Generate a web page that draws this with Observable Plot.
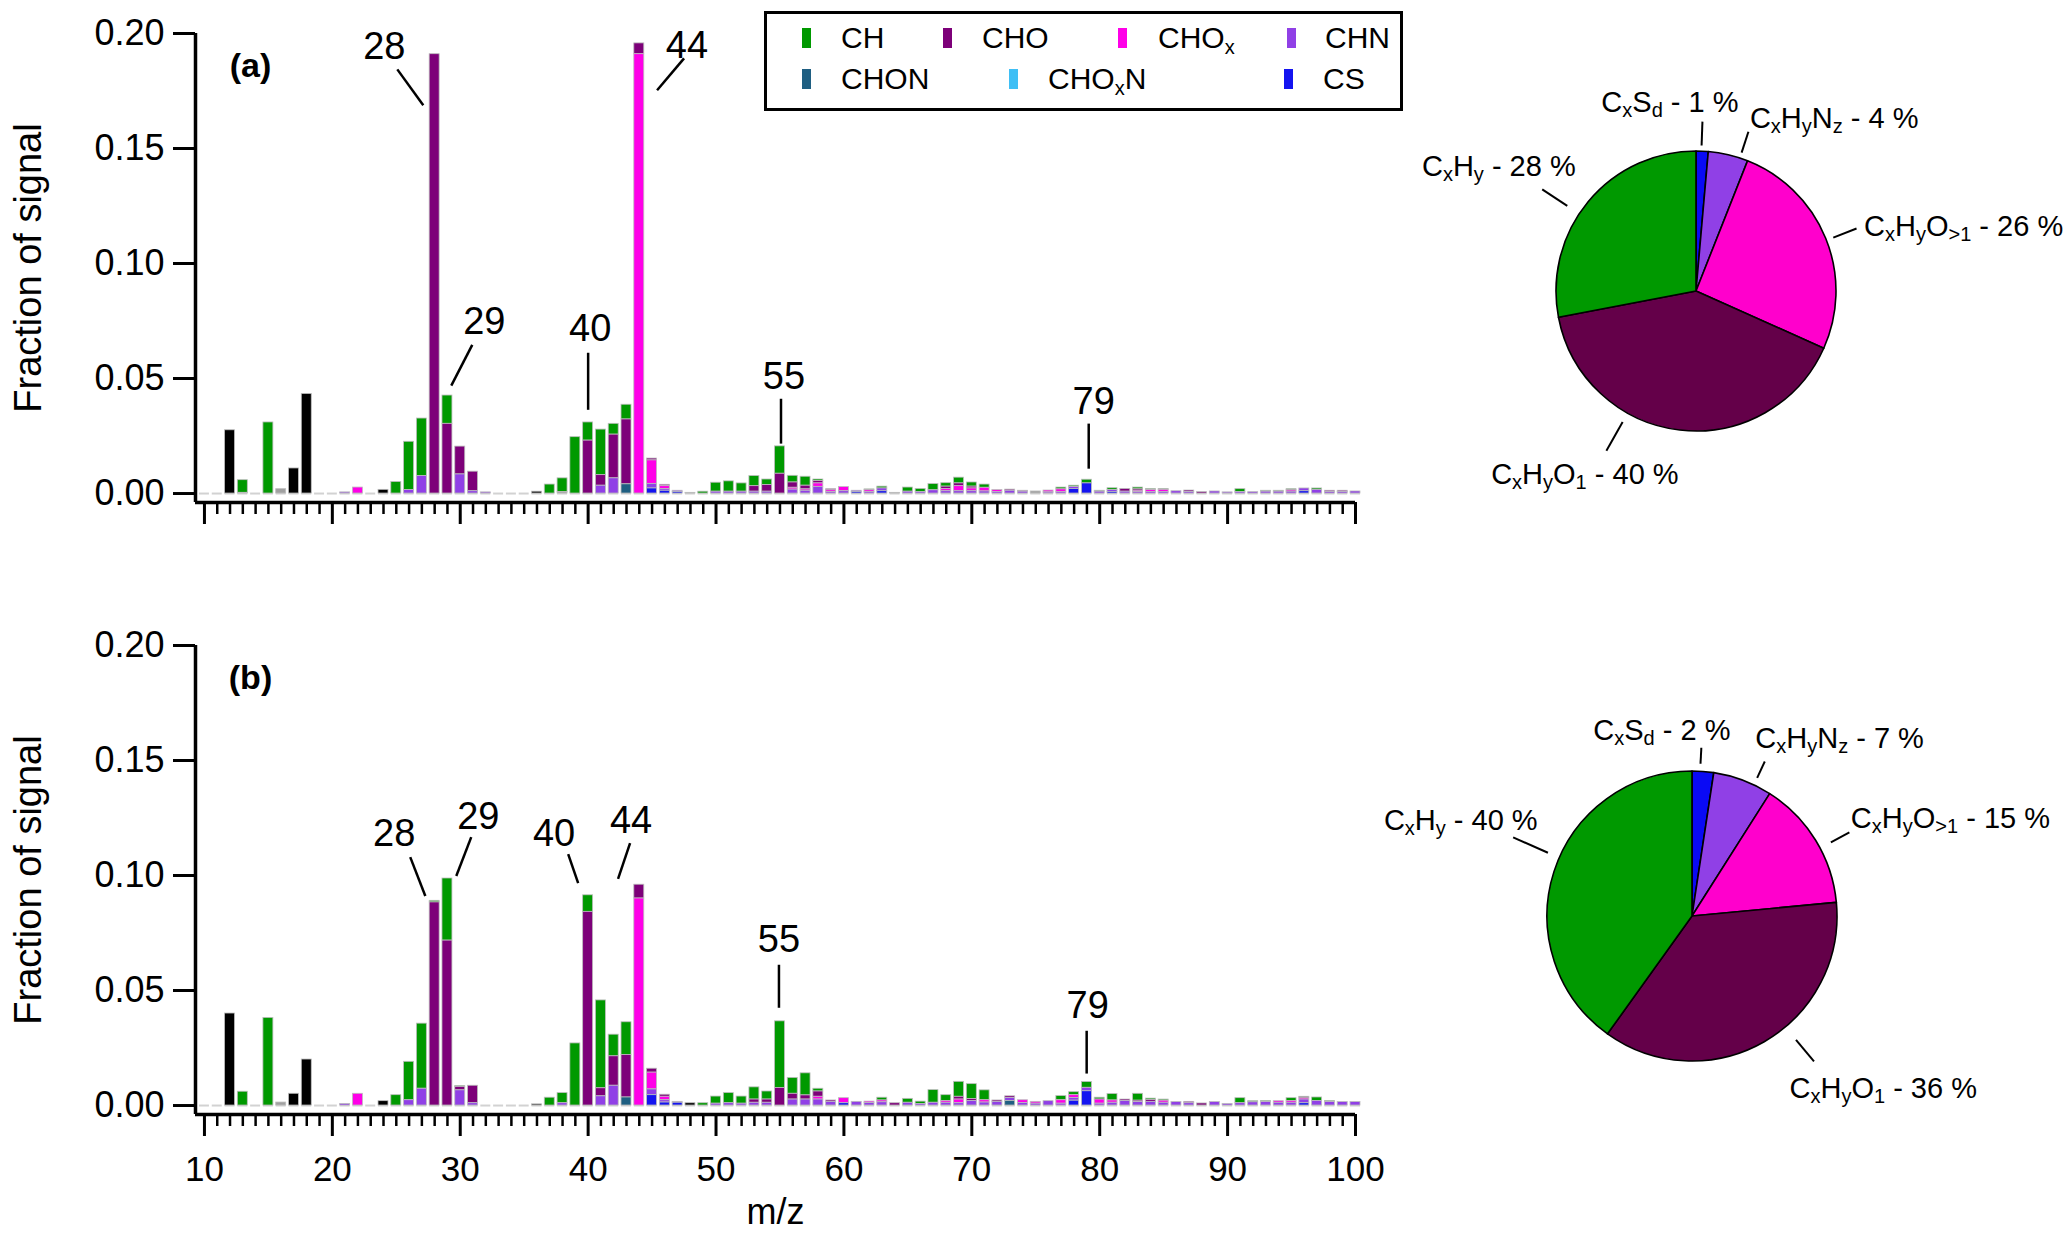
<!DOCTYPE html>
<html><head><meta charset="utf-8">
<script src="https://cdn.jsdelivr.net/npm/d3@7"></script>
<script src="https://cdn.jsdelivr.net/npm/@observablehq/plot@0.6"></script>
<style>
body{margin:0;background:#fff;}
#fig{position:relative;width:2067px;height:1242px;overflow:hidden;font-family:"Liberation Sans",Arial,sans-serif;color:#000;background:#fff;}
.abs{position:absolute;}
#legend{position:absolute;left:764px;top:11px;width:633px;height:94px;border:3px solid #000;}
#legend .sw{position:absolute;width:9px;height:20px;}
#legend .lt{position:absolute;font-size:30px;line-height:34px;white-space:nowrap;}
#legend sub{font-size:20px;vertical-align:-6px;line-height:0;}
</style></head><body><div id="fig"></div>
<script>
// ---------- categories ----------
const cats = ["CH","CHO","CHOx","CHN","CHON","CHOxN","CS","Other","Unassigned"];
const barColors = ["#009900","#7d0079","#ff00e8","#9040e6","#1f5f82","#3fbff5","#1414f0","#000000","#a0a0a0"];
const stackOrder = ["Unassigned","CS","CHOxN","CHON","CHN","CHOx","CHO","CH","Other"];

// ---------- axes ----------
const mzAll = d3.range(10, 101);
const majorTicks = [10,20,30,40,50,60,70,80,90,100];
const minorTicks = mzAll.filter(d => d % 10 !== 0);
const yTicks = [0, 0.05, 0.10, 0.15, 0.20];

// ---------- panel (a) values: [m/z, fraction] ----------
const a_CH = [[13,0.0055],[15,0.0309],[25,0.005],[26,0.021],[27,0.025],[29,0.0123],[37,0.0039],[38,0.006],[39,0.0245],[40,0.0079],[41,0.0198],[42,0.0047],[43,0.0064],[49,0.0008],[50,0.0039],[51,0.0045],[52,0.0036],[53,0.0044],[54,0.0024],[55,0.0119],[56,0.0029],[57,0.0039],[58,0.0007],[62,0.0004],[63,0.0008],[65,0.0018],[66,0.0014],[67,0.0027],[68,0.0015],[69,0.0025],[70,0.0018],[71,0.0014],[77,0.0008],[78,0.0006],[79,0.0016],[80,0.0004],[81,0.0008],[83,0.0008],[84,0.0005],[85,0.0004],[91,0.0013],[93,0.0004],[94,0.0004],[95,0.0005],[97,0.0006]];
const a_CHO = [[28,0.191],[29,0.0303],[30,0.0121],[31,0.0085],[40,0.023],[41,0.0046],[42,0.019],[43,0.0282],[44,0.0047],[45,0.0008],[46,0.0006],[53,0.0024],[54,0.0029],[55,0.0086],[56,0.0023],[57,0.0016],[58,0.001],[59,0.0005],[68,0.001],[69,0.0012],[70,0.0008],[73,0.0005],[74,0.0004],[82,0.0012],[83,0.0006],[87,0.0006],[88,0.0006],[98,0.0005],[99,0.0005]];
const a_CHOx = [[22,0.0026],[44,0.191],[45,0.0102],[46,0.0012],[56,0.0008],[57,0.0006],[58,0.0015],[59,0.0008],[60,0.0018],[62,0.0008],[68,0.001],[69,0.0022],[70,0.0012],[71,0.0016],[72,0.0008],[76,0.0008],[77,0.0012],[83,0.0006],[84,0.0008],[85,0.0009],[95,0.0006]];
const a_CHN = [[21,0.0005],[26,0.0015],[27,0.0076],[30,0.0083],[31,0.001],[32,0.0005],[41,0.0034],[42,0.0066],[45,0.002],[46,0.0008],[47,0.0006],[50,0.0008],[51,0.0008],[52,0.0008],[53,0.0008],[54,0.0008],[56,0.0017],[57,0.0012],[58,0.0029],[59,0.0006],[60,0.001],[61,0.0006],[62,0.0006],[63,0.0012],[65,0.0008],[66,0.0006],[67,0.0014],[68,0.001],[69,0.001],[70,0.001],[71,0.0009],[72,0.0007],[73,0.0012],[74,0.0008],[76,0.0005],[77,0.0006],[78,0.0008],[80,0.0008],[81,0.0008],[82,0.0008],[83,0.0006],[84,0.0007],[85,0.0007],[86,0.001],[87,0.0007],[89,0.0009],[90,0.0005],[91,0.0006],[92,0.0006],[93,0.0008],[94,0.0008],[95,0.0008],[96,0.0012],[97,0.0016],[98,0.0007],[99,0.0007],[100,0.0009]];
const a_CHON = [[43,0.004]];
const a_CHOxN = [];
const a_CS = [[45,0.0022],[46,0.0012],[47,0.0006],[61,0.0006],[63,0.001],[78,0.002],[79,0.0044],[81,0.0007],[96,0.001]];
const a_Other = [[12,0.0275],[17,0.0109],[18,0.0433],[24,0.0016],[36,0.0008]];
const a_Unassigned = [[13,0.0003],[16,0.0019],[38,0.0006],[48,0.0003],[64,0.0003],[75,0.0009]];

// ---------- panel (b) values ----------
const b_CH = [[13,0.006],[15,0.0381],[25,0.0045],[26,0.0167],[27,0.0283],[28,0.0007],[29,0.027],[30,0.0004],[37,0.0034],[38,0.0044],[39,0.027],[40,0.0072],[41,0.0382],[42,0.0094],[43,0.0142],[49,0.001],[50,0.0031],[51,0.0044],[52,0.0031],[53,0.0053],[54,0.0035],[55,0.029],[56,0.0069],[57,0.0096],[58,0.0012],[63,0.0012],[65,0.0017],[66,0.001],[67,0.0055],[68,0.0025],[69,0.0065],[70,0.0065],[71,0.0043],[77,0.0018],[78,0.0013],[79,0.0025],[80,0.0008],[81,0.0028],[83,0.003],[84,0.0006],[85,0.0005],[91,0.0022],[92,0.0005],[93,0.0005],[95,0.0012],[97,0.0015],[98,0.0005]];
const b_CHO = [[28,0.0883],[29,0.0717],[30,0.0015],[31,0.0076],[40,0.0842],[41,0.0035],[42,0.0128],[43,0.0185],[44,0.006],[45,0.0017],[46,0.0009],[53,0.0014],[54,0.0014],[55,0.0076],[56,0.0025],[57,0.0018],[58,0.0023],[59,0.0006],[64,0.001],[69,0.0012],[70,0.0008],[72,0.0006],[73,0.0007],[82,0.0006],[83,0.0006],[84,0.0008],[87,0.0006],[88,0.0009]];
const b_CHOx = [[22,0.0051],[44,0.090],[45,0.0073],[46,0.0015],[58,0.0012],[60,0.0022],[62,0.0006],[63,0.0008],[68,0.0008],[69,0.0016],[71,0.001],[74,0.0012],[75,0.0008],[77,0.0015],[78,0.0012],[80,0.0018],[81,0.001],[85,0.0009],[94,0.0007],[95,0.0008],[96,0.0008]];
const b_CHN = [[21,0.0007],[26,0.0023],[27,0.0073],[30,0.0066],[31,0.001],[38,0.001],[41,0.004],[42,0.0086],[45,0.0025],[46,0.001],[47,0.0004],[50,0.0008],[51,0.001],[52,0.0008],[53,0.0012],[54,0.0012],[56,0.0026],[57,0.0026],[58,0.0026],[59,0.0016],[61,0.0016],[62,0.0011],[63,0.0014],[65,0.0012],[66,0.0007],[67,0.0012],[68,0.0012],[69,0.001],[70,0.002],[71,0.0013],[72,0.0016],[73,0.0013],[74,0.0011],[75,0.0008],[76,0.0019],[77,0.0008],[78,0.0012],[79,0.0015],[80,0.0008],[81,0.0012],[82,0.002],[83,0.0015],[84,0.0016],[85,0.0012],[86,0.0015],[87,0.001],[89,0.0015],[90,0.0007],[91,0.001],[92,0.0014],[93,0.0015],[94,0.0012],[95,0.0012],[96,0.0016],[97,0.002],[98,0.0015],[99,0.0015],[100,0.0015]];
const b_CHON = [[43,0.0035],[73,0.002]];
const b_CHOxN = [];
const b_CS = [[45,0.0045],[46,0.0013],[47,0.0012],[60,0.001],[78,0.0021],[79,0.0062],[96,0.001]];
const b_Other = [[12,0.040],[17,0.0051],[18,0.020],[24,0.0019],[36,0.0005],[48,0.001],[96,0.0004]];
const b_Unassigned = [[16,0.0013]];

// ---------- peak annotations ----------
const peakLabelsA = ["28","44","29","40","55","79"];
const peakLabelsB = ["28","29","40","44","55","79"];
// layout (data coords): text position and leader line ends
const peakLayoutA = [
  {tx:24.06,ty:0.1944,x1:25.08,y1:0.1844,x2:27.11,y2:0.1688},
  {tx:47.73,ty:0.1948,x1:47.5,y1:0.1892,x2:45.39,y2:0.1753},
  {tx:31.88,ty:0.0746,x1:30.94,y1:0.0646,x2:29.3,y2:0.0469},
  {tx:40.16,ty:0.0716,x1:40.0,y1:0.0612,x2:40.0,y2:0.0364},
  {tx:55.31,ty:0.0508,x1:55.08,y1:0.0412,x2:55.08,y2:0.0217},
  {tx:79.53,ty:0.0399,x1:79.14,y1:0.0304,x2:79.14,y2:0.0108}
];
const peakLayoutB = [
  {tx:24.84,ty:0.118,x1:26.09,y1:0.108,x2:27.27,y2:0.0911},
  {tx:31.41,ty:0.1254,x1:30.86,y1:0.1167,x2:29.69,y2:0.0998},
  {tx:37.34,ty:0.118,x1:38.44,y1:0.1093,x2:39.22,y2:0.0967},
  {tx:43.36,ty:0.1236,x1:43.28,y1:0.1141,x2:42.34,y2:0.0985},
  {tx:54.92,ty:0.072,x1:54.92,y1:0.0612,x2:54.92,y2:0.0425},
  {tx:79.06,ty:0.0434,x1:78.98,y1:0.0325,x2:78.98,y2:0.0139}
];

// ---------- pie values (percent) ----------
const pieCats = ["CS","CHN","CHOx","CHO","CH"];
const pieColors = ["#0a0af5","#9040e6","#ff00cc","#640049","#009900"];
const pieA = [1.4, 4.6, 25.7, 40.3, 28.0];
const pieA_pct = [1, 4, 26, 40, 28];
const pieB = [2.4, 6.6, 14.5, 36.4, 40.1];
const pieB_pct = [2, 7, 15, 36, 40];
const pieLabelParts = {
  CS: [["C",0],["x",1],["S",0],["d",1]],
  CHN: [["C",0],["x",1],["H",0],["y",1],["N",0],["z",1]],
  CHOx: [["C",0],["x",1],["H",0],["y",1],["O",0],[">1",1]],
  CHO: [["C",0],["x",1],["H",0],["y",1],["O",0],["1",1]],
  CH: [["C",0],["x",1],["H",0],["y",1]]
};
// pie layout: center, radius, leader angle (deg clockwise from top), leader radii, label offsets
const pieLayoutA = {cx:1696, cy:291, r:140, labels:[
  {ang:2, r1:146, r2:170, dx:-32, dy:-17, anchor:"middle"},
  {ang:18, r1:146, r2:168, dx:2, dy:-11, anchor:"start"},
  {ang:68.5, r1:147, r2:172, dx:8, dy:0, anchor:"start"},
  {ang:209.5, r1:150, r2:183, dx:-21, dy:26, anchor:"middle"},
  {ang:303.5, r1:155, r2:185, dx:34, dy:-21, anchor:"end"}
]};
const pieLayoutB = {cx:1692, cy:916, r:145, labels:[
  {ang:3, r1:153, r2:169, dx:-39, dy:-15, anchor:"middle"},
  {ang:25, r1:153, r2:171, dx:-9, dy:-21, anchor:"start"},
  {ang:61.8, r1:157, r2:178, dx:2, dy:-12, anchor:"start"},
  {ang:140, r1:161, r2:189, dx:-24, dy:29, anchor:"start"},
  {ang:293.8, r1:158, r2:196, dx:25, dy:-15, anchor:"end"}
]};

// ---------- helpers ----------
function table(series) {
  const rows = [];
  for (const [cat, pairs] of Object.entries(series))
    for (const [mz, value] of pairs) rows.push({mz, cat, value});
  return rows;
}
const dataA = table({CH:a_CH, CHO:a_CHO, CHOx:a_CHOx, CHN:a_CHN, CHON:a_CHON, CHOxN:a_CHOxN, CS:a_CS, Other:a_Other, Unassigned:a_Unassigned});
const dataB = table({CH:b_CH, CHO:b_CHO, CHOx:b_CHOx, CHN:b_CHN, CHON:b_CHON, CHOxN:b_CHOxN, CS:b_CS, Other:b_Other, Unassigned:b_Unassigned});
const annotA = peakLabelsA.map((label, i) => ({label, ...peakLayoutA[i]}));
const annotB = peakLabelsB.map((label, i) => ({label, ...peakLayoutB[i]}));

const FONT = '"Liberation Sans", Arial, Helvetica, sans-serif';
const X0 = 9.3, YB = -0.0039;

function panel(data, annot, tag, showX) {
  const h = showX ? 630 : 560;
  return Plot.plot({
    width: 1400, height: h,
    marginLeft: 195, marginRight: 45, marginTop: 33, marginBottom: h - 502,
    x: {domain: [X0, 100]},
    y: {domain: [YB, 0.2]},
    color: {domain: cats, range: barColors},
    style: {fontFamily: FONT, color: "#000", background: "transparent", overflow: "visible"},
    marks: [
      Plot.ruleY(mzAll, {x1: d => d - 0.39, x2: d => d + 0.39, y: 0, stroke: "#d2d2d2", strokeWidth: 2}),
      Plot.rectY(data, {x1: d => d.mz - 0.39, x2: d => d.mz + 0.39, y: "value", z: "cat", fill: "cat",
        order: stackOrder, stroke: "#bdbdbd", strokeWidth: 0.8}),
      Plot.axisY({ticks: yTicks, tickSize: 22, tickPadding: 9, tickFormat: d3.format(".2f"), fontSize: 36, strokeWidth: 3, label: null}),
      Plot.axisX({ticks: majorTicks, tickSize: 22, tickPadding: 20, tickFormat: showX ? (d => String(d)) : (() => ""), fontSize: 35, strokeWidth: 3, label: null}),
      Plot.axisX({ticks: minorTicks, tickSize: 12, tickFormat: () => "", strokeWidth: 2.5, label: null}),
      Plot.ruleX([X0], {y1: YB, y2: 0.2, strokeWidth: 3.5}),
      Plot.ruleY([YB], {x1: X0, x2: 100, strokeWidth: 3.5}),
      Plot.link(annot, {x1: "x1", y1: "y1", x2: "x2", y2: "y2", stroke: "#000", strokeWidth: 2.5}),
      Plot.text(annot, {x: "tx", y: "ty", text: "label", fontSize: 38, lineAnchor: "middle"}),
      Plot.text([tag], {frameAnchor: "top-left", dx: 55, dy: 33, fontSize: 34, fontWeight: "bold", textAnchor: "middle", lineAnchor: "middle"}),
      Plot.text(["Fraction of signal"], {frameAnchor: "left", rotate: -90, dx: -167, fontSize: 38, textAnchor: "middle", lineAnchor: "middle"}),
      ...(showX ? [Plot.text(["m/z"], {frameAnchor: "bottom", dy: 98, fontSize: 36, lineAnchor: "middle"})] : [])
    ]
  });
}

function pieRender(values, pcts, layout) {
  return (index, scales) => {
    const sx = scales.x, sy = scales.y;
    const g = d3.create("svg:g");
    const cx = sx(layout.cx), cy = sy(layout.cy);
    const arcs = d3.pie().sort(null).value(d => d)(values);
    const arc = d3.arc().innerRadius(0).outerRadius(layout.r);
    g.selectAll("path").data(arcs).join("path")
      .attr("transform", `translate(${cx},${cy})`)
      .attr("d", arc)
      .attr("fill", (d, i) => pieColors[i])
      .attr("stroke", "#000").attr("stroke-width", 1.6).attr("stroke-linejoin", "round");
    layout.labels.forEach((L, i) => {
      const a = L.ang * Math.PI / 180;
      const ex = cx + L.r2 * Math.sin(a), ey = cy - L.r2 * Math.cos(a);
      const t = g.append("text")
        .attr("x", ex + L.dx).attr("y", ey + L.dy)
        .attr("text-anchor", L.anchor).attr("dominant-baseline", "middle")
        .attr("font-size", 29).attr("font-family", FONT).attr("fill", "#000");
      let sub = 0;
      for (const [s, isSub] of pieLabelParts[pieCats[i]]) {
        const ts = t.append("tspan").text(s);
        if (isSub && !sub) { ts.attr("dy", 8).attr("font-size", 20); sub = 1; }
        else if (isSub) ts.attr("font-size", 20);
        else if (sub) { ts.attr("dy", -8); sub = 0; }
      }
      const tail = t.append("tspan").text(` - ${pcts[i]} %`);
      if (sub) tail.attr("dy", -8);
    });
    return g.node();
  };
}

function leaders(layout) {
  return layout.labels.map(L => {
    const a = L.ang * Math.PI / 180;
    return {x1: layout.cx + L.r1 * Math.sin(a), y1: layout.cy - L.r1 * Math.cos(a),
            x2: layout.cx + L.r2 * Math.sin(a), y2: layout.cy - L.r2 * Math.cos(a)};
  });
}

const pies = Plot.plot({
  width: 707, height: 1242, margin: 0,
  x: {domain: [1360, 2067], range: [0, 707], axis: null},
  y: {domain: [0, 1242], range: [0, 1242], axis: null},
  style: {fontFamily: FONT, color: "#000", background: "transparent", overflow: "visible"},
  marks: [
    pieRender(pieA, pieA_pct, pieLayoutA),
    pieRender(pieB, pieB_pct, pieLayoutB),
    Plot.link(leaders(pieLayoutA), {x1: "x1", y1: "y1", x2: "x2", y2: "y2", stroke: "#000", strokeWidth: 2}),
    Plot.link(leaders(pieLayoutB), {x1: "x1", y1: "y1", x2: "x2", y2: "y2", stroke: "#000", strokeWidth: 2})
  ]
});

const fig = document.getElementById("fig");
const pa = panel(dataA, annotA, "(a)", false);
pa.classList.add("abs"); pa.style.left = "0px"; pa.style.top = "0px";
const pb = panel(dataB, annotB, "(b)", true);
pb.classList.add("abs"); pb.style.left = "0px"; pb.style.top = "612px";
pies.classList.add("abs"); pies.style.left = "1360px"; pies.style.top = "0px";
fig.append(pa, pb, pies);

// ---------- legend ----------
const legendItems = [
  {cat:"CH", html:"CH", sx:35, tx:74, row:0},
  {cat:"CHO", html:"CHO", sx:176, tx:215, row:0},
  {cat:"CHOx", html:"CHO<sub>x</sub>", sx:351, tx:391, row:0},
  {cat:"CHN", html:"CHN", sx:520, tx:558, row:0},
  {cat:"CHON", html:"CHON", sx:35, tx:74, row:1},
  {cat:"CHOxN", html:"CHO<sub>x</sub>N", sx:242, tx:281, row:1},
  {cat:"CS", html:"CS", sx:517, tx:556, row:1}
];
const leg = document.createElement("div");
leg.id = "legend";
const rowY = [23.5, 65];
for (const it of legendItems) {
  const sw = document.createElement("div");
  sw.className = "sw";
  sw.style.left = it.sx + "px";
  sw.style.top = (rowY[it.row] - 10) + "px";
  sw.style.background = barColors[cats.indexOf(it.cat)];
  const lt = document.createElement("div");
  lt.className = "lt";
  lt.style.left = it.tx + "px";
  lt.style.top = (rowY[it.row] - 17) + "px";
  lt.innerHTML = it.html;
  leg.append(sw, lt);
}
fig.append(leg);
</script></body></html>
